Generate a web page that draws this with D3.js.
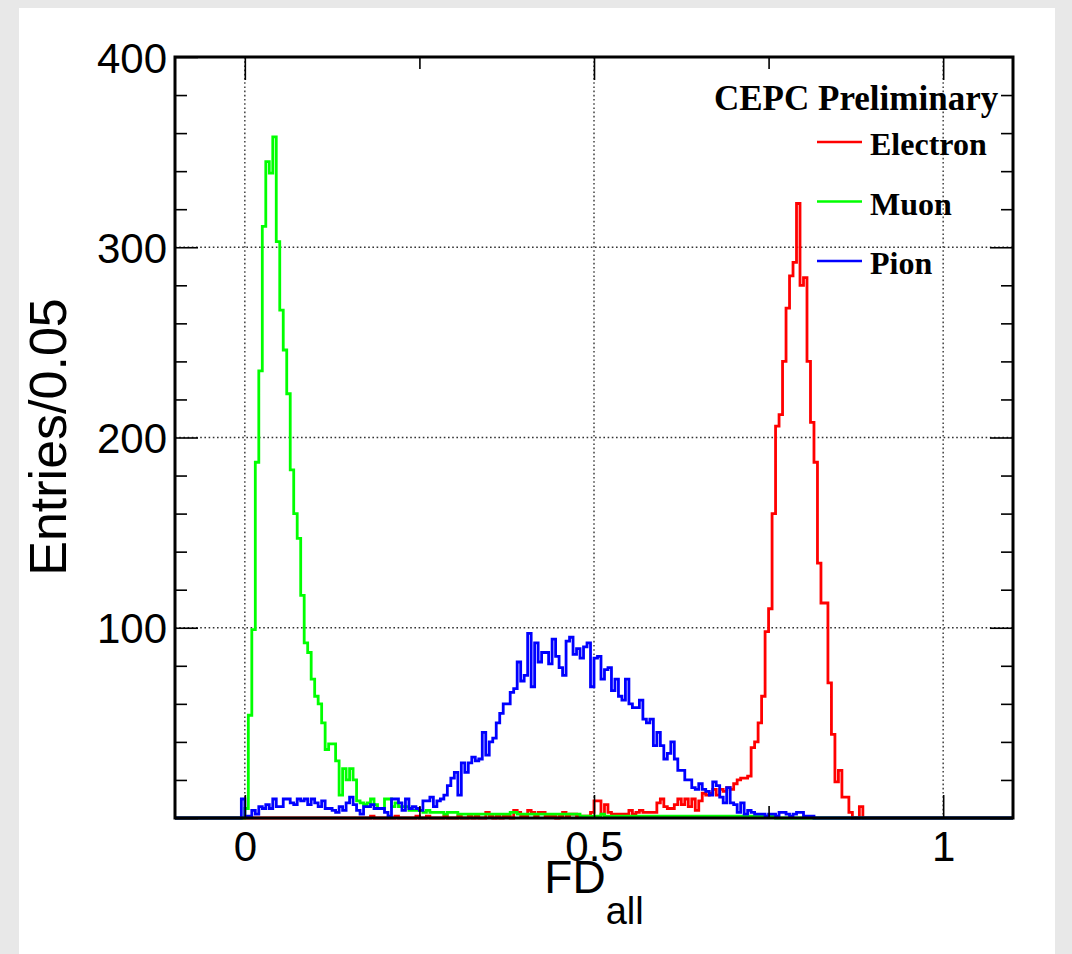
<!DOCTYPE html>
<html><head><meta charset="utf-8">
<script src="https://cdn.jsdelivr.net/npm/d3@7"></script>
<style>html,body{margin:0;padding:0;background:#e8e8e8;} svg{display:block}</style>
</head><body>
<svg id="c" width="1072" height="954"></svg>
<script>
// ---- data ----
const xDomain = [-0.1, 1.1];
const yDomain = [0, 400];
const binWidth = 0.005;          // 240 bins from -0.1 to 1.1
const xMajorTicks = [0, 0.5, 1];
const xTickLabels = ["0", "0.5", "1"];
const xMinorTicks = [0.25, 0.75];
const yMajorTicks = [0, 100, 200, 300, 400];
const yTickLabels = ["", "100", "200", "300", "400"];
const yMinorTicks = [20,40,60,80,120,140,160,180,220,240,260,280,320,340,360,380];
const xGrid = [0, 0.5, 1];
const yGrid = [100, 200, 300];
const seriesNames = ["Electron", "Muon", "Pion"];
const seriesColors = ["#ff0000", "#00ff00", "#0000ff"];

const electron = [
 0,0,0,0,0,0,0,0,0,0,0,0,0,0,0,0,0,0,0,0,
 0,0,0,0,0,0,0,0,0,0,0,0,0,0,0,0,0,0,0,0,
 0,0,0,0,0,0,0,0,0,0,0,0,0,0,0,0,1,0,0,0,
 0,0,0,1,0,0,0,0,0,1,0,0,1,0,0,0,0,1,0,0,
 0,1,0,0,1,0,1,0,0,3,1,0,1,0,1,1,0,4,3,1,
 1,4,3,1,3,3,1,1,1,0,1,3,1,2,2,1,1,1,1,3,
 9,9,2,7,3,2,2,2,2,2,4,2,3,4,3,3,3,3,8,10,
 6,5,5,7,10,7,10,6,10,4,9,13,12,13,15,12,15,14,16,15,
 18,20,21,21,22,37,40,50,64,98,110,160,206,212,240,268,285,292,323,280,
 284,240,208,187,134,113,113,71,44,19,25,11,11,3,0,0,6,0,0,0,
 0,0,0,0,0,0,0,0,0,0,0,0,0,0,0,0,0,0,0,0,
 0,0,0,0,0,0,0,0,0,0,0,0,0,0,0,0,0,0,0,0
];
const muon = [
 0,0,0,0,0,0,0,0,0,0,0,0,0,0,0,0,0,0,0,0,
 5,54,99,187,235,311,345,339,358,303,267,246,223,183,160,147,117,92,87,73,
 64,60,50,36,39,39,30,12,26,20,26,20,9,8,7,8,10,7,5,5,
 10,10,6,8,6,6,6,4,4,4,4,3,4,3,3,3,3,2,3,3,
 3,2,2,2,2,2,2,2,2,2,2,2,2,2,2,2,3,3,2,2,
 2,2,2,2,2,2,2,2,2,2,2,2,2,2,2,2,1,1,1,1,
 1,1,2,1,1,1,1,1,1,1,1,1,1,1,1,1,1,1,1,1,
 1,1,1,1,1,1,1,1,1,1,1,1,1,1,1,1,1,1,1,1,
 1,1,1,1,1,1,1,1,1,1,1,1,0,0,0,0,0,0,0,0,
 0,0,0,0,0,0,0,0,0,0,0,0,0,0,0,0,0,0,0,0,
 0,0,0,0,0,0,0,0,0,0,0,0,0,0,0,0,0,0,0,0,
 0,0,0,0,0,0,0,0,0,0,0,0,0,0,0,0,0,0,0,0
];
const pion = [
 0,0,0,0,0,0,0,0,0,0,0,0,0,0,0,0,0,0,0,10,
 1,1,4,2,6,5,7,5,10,6,6,10,10,8,7,10,9,10,7,10,
 8,6,9,5,5,4,3,6,4,8,11,7,4,2,6,6,7,5,5,5,
 3,1,10,10,8,4,10,5,6,5,4,9,9,11,6,9,10,12,17,21,
 24,12,29,24,29,32,30,31,45,33,40,42,50,55,60,60,66,68,82,72,
 75,97,69,92,82,87,87,81,94,85,79,75,93,95,86,89,84,90,92,69,
 84,85,73,78,79,67,73,64,62,73,60,58,58,62,52,50,52,38,45,38,
 31,34,40,31,25,25,20,20,16,15,18,15,14,12,19,17,11,8,16,8,
 7,3,8,2,4,3,2,2,2,1,2,2,1,3,3,2,1,2,3,3,
 1,1,1,0,0,0,0,0,0,0,0,0,0,0,0,0,0,0,0,0,
 0,0,0,0,0,0,0,0,0,0,0,0,0,0,0,0,0,0,0,0,
 0,0,0,0,0,0,0,0,0,0,0,0,0,0,0,0,0,0,0,0
];
const seriesData = [electron, muon, pion];

// ---- layout ----
const svg = d3.select("#c");
const L = 175, R = 1013, T = 57, B = 818;
const x = d3.scaleLinear().domain(xDomain).range([L, R]);
const y = d3.scaleLinear().domain(yDomain).range([B, T]);

// background panel
svg.append("rect").attr("x", 0).attr("y", 0).attr("width", 1072).attr("height", 954).attr("fill", "#e8e8e8");
svg.append("rect").attr("x", 19).attr("y", 8).attr("width", 1036).attr("height", 946).attr("fill", "#ffffff");

// grid
const grid = svg.append("g").attr("stroke", "#333").attr("stroke-width", 1.4).attr("stroke-dasharray", "1.6,2.6");
grid.selectAll(".gx").data(xGrid).join("line")
  .attr("x1", d => x(d)).attr("x2", d => x(d)).attr("y1", T).attr("y2", B);
grid.selectAll(".gy").data(yGrid).join("line")
  .attr("x1", L).attr("x2", R).attr("y1", d => y(d)).attr("y2", d => y(d));

// histograms
svg.append("defs").append("clipPath").attr("id", "clip")
  .append("rect").attr("x", L).attr("y", T - 2).attr("width", R - L).attr("height", B - T + 4);
function stepPath(vals) {
  const p = d3.path();
  p.moveTo(x(xDomain[0]), y(0));
  vals.forEach((v, i) => {
    const x0 = xDomain[0] + i * binWidth;
    p.lineTo(x(x0), y(v));
    p.lineTo(x(x0 + binWidth), y(v));
  });
  p.lineTo(x(xDomain[1]), y(0));
  return p.toString();
}
const hg = svg.append("g").attr("clip-path", "url(#clip)");
seriesData.forEach((vals, i) => {
  hg.append("path").attr("d", stepPath(vals)).attr("fill", "none")
    .attr("stroke", seriesColors[i]).attr("stroke-width", 2.8).attr("stroke-linejoin", "miter");
});

// axes (ticks inward, both sides)
const fontSans = "'Liberation Sans', Arial, Helvetica, sans-serif";
function styleAxis(g) {
  g.select(".domain").remove();
  g.selectAll(".tick line").attr("stroke", "#000").attr("stroke-width", 1.6);
  g.selectAll(".tick text").attr("fill", "#000").attr("font-family", fontSans).attr("font-size", 42);
}
// left
svg.append("g").attr("transform", `translate(${L},0)`)
  .call(d3.axisLeft(y).tickValues(yMajorTicks).tickSize(-23).tickPadding(8)
    .tickFormat((d, i) => yTickLabels[i]))
  .call(styleAxis)
  .call(g => g.selectAll(".tick text").attr("dy", "0.36em"));
svg.append("g").attr("transform", `translate(${L},0)`)
  .call(d3.axisLeft(y).tickValues(yMinorTicks).tickSize(-12).tickFormat(""))
  .call(styleAxis);
// right
svg.append("g").attr("transform", `translate(${R},0)`)
  .call(d3.axisRight(y).tickValues(yMajorTicks).tickSize(-23).tickFormat(""))
  .call(styleAxis);
svg.append("g").attr("transform", `translate(${R},0)`)
  .call(d3.axisRight(y).tickValues(yMinorTicks).tickSize(-12).tickFormat(""))
  .call(styleAxis);
// bottom
svg.append("g").attr("transform", `translate(0,${B})`)
  .call(d3.axisBottom(x).tickValues(xMajorTicks).tickSize(-23).tickPadding(13)
    .tickFormat((d, i) => xTickLabels[i]))
  .call(styleAxis);
svg.append("g").attr("transform", `translate(0,${B})`)
  .call(d3.axisBottom(x).tickValues(xMinorTicks).tickSize(-12).tickFormat(""))
  .call(styleAxis);
// top
svg.append("g").attr("transform", `translate(0,${T})`)
  .call(d3.axisTop(x).tickValues(xMajorTicks).tickSize(-23).tickFormat(""))
  .call(styleAxis);
svg.append("g").attr("transform", `translate(0,${T})`)
  .call(d3.axisTop(x).tickValues(xMinorTicks).tickSize(-12).tickFormat(""))
  .call(styleAxis);

// frame
svg.append("rect").attr("x", L).attr("y", T).attr("width", R - L).attr("height", B - T)
  .attr("fill", "none").attr("stroke", "#000").attr("stroke-width", 3);

// axis titles
const xt = svg.append("text").attr("x", (L + R) / 2).attr("y", 893).attr("text-anchor", "middle")
  .attr("font-family", fontSans).attr("font-size", 46).attr("fill", "#000");
xt.append("tspan").text("FD");
xt.append("tspan").attr("font-size", 38).attr("dy", 31).text("all");
svg.append("text").attr("transform", "translate(66,437) rotate(-90)").attr("text-anchor", "middle")
  .attr("font-family", fontSans).attr("font-size", 52).attr("fill", "#000").text("Entries/0.05");

// legend
const fontSerif = "'Liberation Serif', 'Times New Roman', serif";
svg.append("text").attr("x", 714).attr("y", 110).attr("font-family", fontSerif).attr("font-weight", "bold")
  .attr("font-size", 35).attr("fill", "#000").text("CEPC Preliminary");
const lg = svg.append("g");
seriesNames.forEach((n, i) => {
  const yy = 142 + i * 59.5;
  lg.append("line").attr("x1", 817).attr("x2", 862).attr("y1", yy).attr("y2", yy)
    .attr("stroke", seriesColors[i]).attr("stroke-width", 2.6);
  lg.append("text").attr("x", 870).attr("y", yy + 13).attr("font-family", fontSerif).attr("font-weight", "bold")
    .attr("font-size", 32).attr("fill", "#000").text(n);
});
</script>
</body></html>
